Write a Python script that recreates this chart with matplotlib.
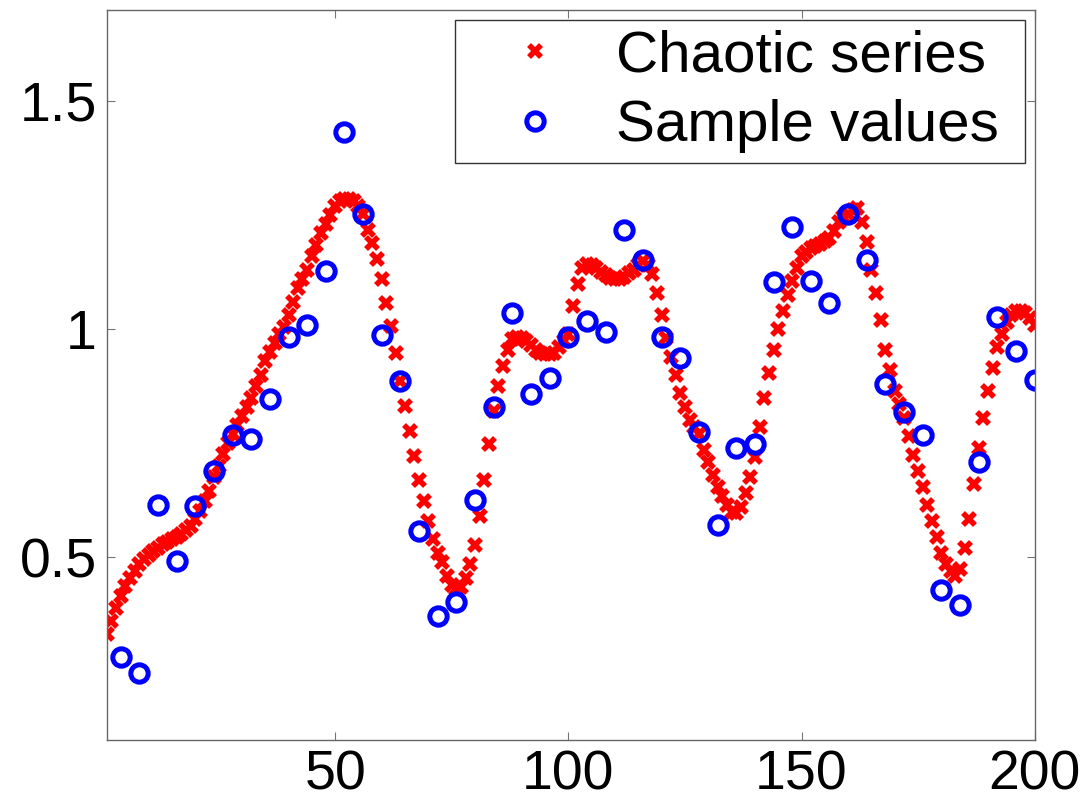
import matplotlib
matplotlib.use("Agg")
import matplotlib.pyplot as plt

plt.rcParams['font.family'] = ['Liberation Sans', 'DejaVu Sans']

# chaotic series, one value per step 1..200
chaotic_x = list(range(1, 201))
chaotic_y = [
    0.332, 0.36, 0.39, 0.415, 0.437, 0.455, 0.47, 0.485, 0.496, 0.505,      # 1-10
    0.514, 0.521, 0.529, 0.534, 0.54, 0.545, 0.552, 0.559, 0.569, 0.583,    # 11-20
    0.601, 0.623, 0.645, 0.675, 0.70, 0.726, 0.75, 0.77, 0.79, 0.81,        # 21-30
    0.83, 0.85, 0.875, 0.90, 0.93, 0.95, 0.97, 0.99, 1.005, 1.03,           # 31-40
    1.06, 1.09, 1.11, 1.13, 1.16, 1.185, 1.21, 1.23, 1.25, 1.27,            # 41-50
    1.28, 1.285, 1.285, 1.28, 1.27, 1.252, 1.218, 1.189, 1.153, 1.109,      # 51-60
    1.058, 1.007, 0.948, 0.886, 0.831, 0.777, 0.722, 0.67, 0.623, 0.58,     # 61-70
    0.54, 0.51, 0.49, 0.46, 0.44, 0.43, 0.435, 0.455, 0.485, 0.528,         # 71-80
    0.59, 0.67, 0.748, 0.82, 0.875, 0.92, 0.955, 0.978, 0.982, 0.98,        # 81-90
    0.975, 0.965, 0.955, 0.948, 0.945, 0.945, 0.948, 0.96, 0.975, 0.99,     # 91-100
    1.05, 1.10, 1.133, 1.142, 1.14, 1.135, 1.125, 1.118, 1.112, 1.109,      # 101-110
    1.11, 1.115, 1.122, 1.13, 1.14, 1.15, 1.14, 1.12, 1.08, 1.03,           # 111-120
    0.98, 0.94, 0.90, 0.86, 0.83, 0.80, 0.785, 0.77, 0.735, 0.71,           # 121-130
    0.68, 0.655, 0.635, 0.615, 0.60, 0.598, 0.61, 0.64, 0.675, 0.72,        # 131-140
    0.785, 0.85, 0.905, 0.955, 1.0, 1.04, 1.075, 1.105, 1.135, 1.16,        # 141-150
    1.17, 1.178, 1.182, 1.187, 1.193, 1.20, 1.215, 1.235, 1.245, 1.252,     # 151-160
    1.262, 1.265, 1.235, 1.19, 1.13, 1.08, 1.02, 0.955, 0.91, 0.865,        # 161-170
    0.835, 0.805, 0.765, 0.725, 0.69, 0.655, 0.615, 0.58, 0.545, 0.51,      # 171-180
    0.485, 0.47, 0.46, 0.475, 0.52, 0.585, 0.66, 0.74, 0.805, 0.865,        # 181-190
    0.915, 0.96, 0.99, 1.015, 1.03, 1.04, 1.04, 1.035, 1.025, 1.01,         # 191-200
]

# sampled values, every 4th step
sample_x = list(range(4, 201, 4))
sample_y = [
    0.282, 0.247, 0.615, 0.492, 0.612, 0.689, 0.768, 0.759, 0.847, 0.982,
    1.009, 1.127, 1.431, 1.252, 0.987, 0.886, 0.558, 0.372, 0.402, 0.626,
    0.829, 1.035, 0.858, 0.893, 0.982, 1.018, 0.993, 1.217, 1.151, 0.982,
    0.936, 0.774, 0.571, 0.739, 0.748, 1.103, 1.223, 1.105, 1.057, 1.252,
    1.151, 0.880, 0.818, 0.768, 0.429, 0.396, 0.709, 1.026, 0.952, 0.888,
]

x_ticks = [50, 100, 150, 200]
y_ticks = [0.5, 1, 1.5]
y_tick_labels = ["0.5", "1", "1.5"]

fig = plt.figure(figsize=(10.88, 8.06), dpi=100)
ax = fig.add_axes([0.098, 0.082, 0.853, 0.906])

ax.plot(chaotic_x, chaotic_y, linestyle='none', marker='x', color=(1, 0, 0),
        markersize=8.5, markeredgewidth=4, label='Chaotic series ')
ax.plot(sample_x, sample_y, linestyle='none', marker='o', color=(0, 0, 1),
        markerfacecolor='none', markersize=12.5, markeredgewidth=3.6,
        label='Sample values ')

ax.set_xlim(1, 200)
ax.set_ylim(0.1, 1.7)
ax.set_xticks(x_ticks)
ax.set_yticks(y_ticks)
ax.set_yticklabels(y_tick_labels)

ax.tick_params(direction='in', length=6, width=0.8, color='#777777',
               labelsize=40, pad=7, top=True, right=True)
for sp in ax.spines.values():
    sp.set_color('#666666')
    sp.set_linewidth(1)

leg = ax.legend(loc='upper right', fontsize=42, fancybox=False, framealpha=1,
                edgecolor='#333333', borderpad=0.17, labelspacing=0.27,
                handlelength=2.4, handletextpad=0.18, borderaxespad=0.17)
leg.get_frame().set_linewidth(1)

fig.savefig("out.png", dpi=100)
